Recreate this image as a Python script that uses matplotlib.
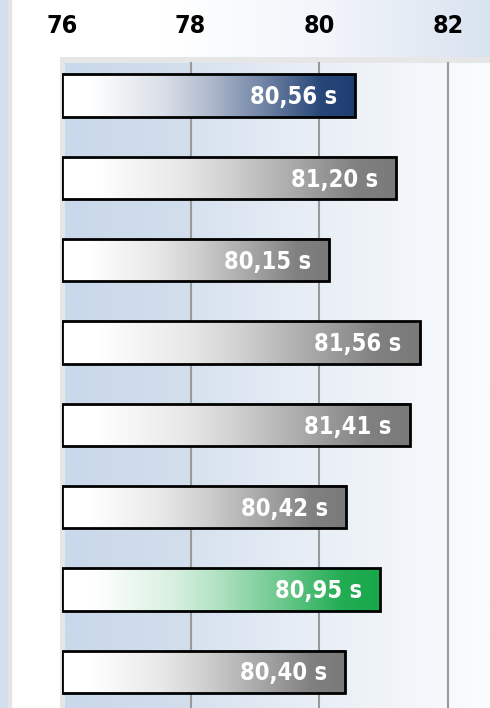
import numpy as np
import matplotlib
matplotlib.use('Agg')
import matplotlib.pyplot as plt
from matplotlib.colors import LinearSegmentedColormap, to_rgb
from matplotlib.patches import Rectangle

# данные
values = [80.56, 81.20, 80.15, 81.56, 81.41, 80.42, 80.95, 80.40]
labels = ['80,56 s', '81,20 s', '80,15 s', '81,56 s', '81,41 s', '80,42 s', '80,95 s', '80,40 s']
end_colors = ['#1d3d71', '#7a7a7a', '#7a7a7a', '#7a7a7a', '#7a7a7a', '#7a7a7a', '#17a84a', '#7a7a7a']
ticks = [76, 78, 80, 82]

plt.rcParams['font.family'] = ['DejaVu Sans']
plt.rcParams['font.stretch'] = 'condensed'

W, H = 490, 708
fig = plt.figure(figsize=(W / 100, H / 100), dpi=100)
fig.patch.set_facecolor('white')

# полоса сверху (градиент)
top = fig.add_axes([0, (H - 57) / H, 1, 57 / H])
top.imshow(np.linspace(0, 1, 200)[None, :], aspect='auto', extent=[0, 1, 0, 1],
           cmap=LinearSegmentedColormap.from_list('t', ['#ffffff', '#ffffff', '#f2f5fa', '#d9e3f0']))
top.axis('off')

# левая полоса
fig.add_artist(Rectangle((0, 0), 8 / W, 1, transform=fig.transFigure, color='#d3dfee', zorder=5))
fig.add_artist(Rectangle((8 / W, 0), 3 / W, 1, transform=fig.transFigure, color='#e4e4e4', zorder=5))

# серая рамка области
frame = fig.add_axes([60 / W, 0, (W - 60) / W, (H - 57) / H])
frame.set_facecolor('#e6e6e6')
frame.set_xticks([])
frame.set_yticks([])
for s in frame.spines.values():
    s.set_visible(False)

# фон области построения
bg = fig.add_axes([65 / W, 0, (W - 65) / W, (H - 63) / H])
bg.imshow(np.linspace(0, 1, 300)[None, :], aspect='auto', extent=[0, 1, 0, 1],
          cmap=LinearSegmentedColormap.from_list('b', [(0, '#c9d8ea'), (0.29, '#d2deec'),
                                                       (0.3, '#d7e2ef'), (0.6, '#e9eff6'),
                                                       (1, '#fbfcfd')]))
bg.axis('off')

ax = fig.add_axes([62 / W, 0, (W - 62) / W, (H - 57) / H])
ax.patch.set_alpha(0)
scale = 64.3
xmax = 76 + (W - 62) / scale

for t in ticks[1:]:
    ax.axvline(t, ymax=1 - 6 / (H - 57), color='#9a9a9a', lw=1.5, zorder=1)

# доля цвета вдоль бара (белый -> цвет)
f_pos = [0, 0.1, 0.35, 0.5, 0.7, 0.88, 1]
w_mix = [0, 0, 0.17, 0.35, 0.65, 0.95, 1]

bh = 0.515
for i, (v, lab, c) in enumerate(zip(values, labels, end_colors)):
    end = np.array(to_rgb(c))
    stops = [(f, tuple(1 - w * (1 - end))) for f, w in zip(f_pos, w_mix)]
    cmap = LinearSegmentedColormap.from_list('g%d' % i, stops)
    y0, y1 = i - bh / 2, i + bh / 2
    ax.imshow(np.linspace(0, 1, 256)[None, :], aspect='auto', cmap=cmap,
              extent=[76, v, y1, y0], zorder=2)
    ax.add_patch(Rectangle((76, y0), v - 76, bh, fill=False, ec='black', lw=2, zorder=3))
    ax.text(v - 0.28, i + 0.02, lab, color='white', fontsize=17, fontweight='bold',
            ha='right', va='center', zorder=4)

ax.set_xlim(76, xmax)
ax.set_ylim(7.44, -0.47)
ax.axis('off')

for t in ticks:
    fig.text((62 + (t - 76) * scale) / W, (H - 26) / H, str(t), ha='center', va='center',
             fontsize=18, fontweight='bold', color='black')

fig.savefig('out.png', dpi=100)
